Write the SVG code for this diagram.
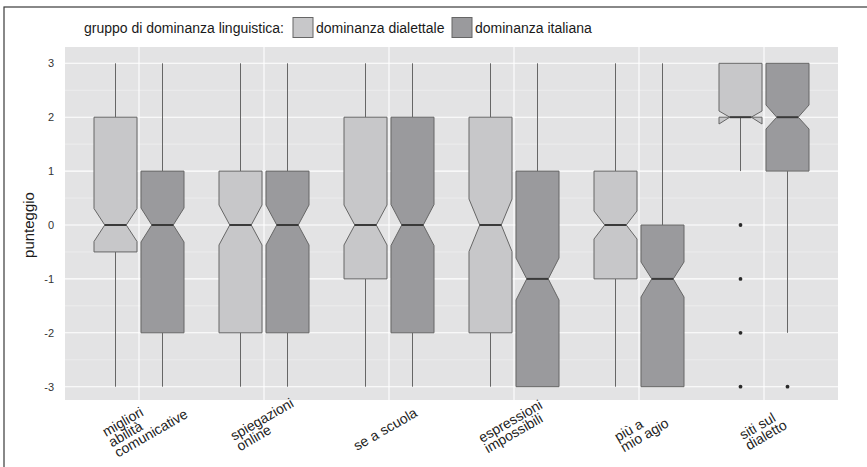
<svg xmlns="http://www.w3.org/2000/svg" width="867" height="467" viewBox="0 0 867 467">
<style>
text{font-family:"Liberation Sans",Arial,sans-serif;fill:#1a1a1a}
.lg{font-size:14px}
.yt{font-size:11px;text-anchor:end;fill:#333}
.xl{font-size:14px;fill:#222}
.grid{stroke:#ffffff;stroke-width:1.1}
.gridm{stroke:#f4f4f4;stroke-width:0.6}
.lt{fill:#c7c7c9;stroke:#666;stroke-width:1}
.dk{fill:#9a9a9d;stroke:#666;stroke-width:1}
.wh{stroke:#666;stroke-width:1}
.md{stroke:#3a3a3a;stroke-width:2}
.out{fill:#2a2a2a}
</style>
<rect x="0" y="0" width="867" height="467" fill="#ffffff"/>
<rect x="4" y="7" width="900" height="500" fill="none" stroke="#3a3a3a" stroke-width="1.2"/>
<g id="legend">
<text class="lg" x="84" y="33">gruppo di dominanza linguistica:</text>
<rect class="lt" x="293" y="17.5" width="20" height="20" stroke="#444" stroke-width="1.3"/>
<text class="lg" x="316" y="33">dominanza dialettale</text>
<rect class="dk" x="452" y="17.5" width="20" height="20" stroke="#444" stroke-width="1.3"/>
<text class="lg" x="475" y="33">dominanza italiana</text>
</g>
<g id="panel">
<rect x="65" y="47" width="773" height="353" fill="#e3e3e4"/>
<g class="gridm">
<line x1="65" y1="90.25" x2="838" y2="90.25"/>
<line x1="65" y1="144.15" x2="838" y2="144.15"/>
<line x1="65" y1="198.05" x2="838" y2="198.05"/>
<line x1="65" y1="251.95" x2="838" y2="251.95"/>
<line x1="65" y1="305.85" x2="838" y2="305.85"/>
<line x1="65" y1="359.75" x2="838" y2="359.75"/>
</g>
<g class="grid">
<line x1="65" y1="63.3" x2="838" y2="63.3"/>
<line x1="65" y1="117.2" x2="838" y2="117.2"/>
<line x1="65" y1="171.1" x2="838" y2="171.1"/>
<line x1="65" y1="225" x2="838" y2="225"/>
<line x1="65" y1="278.9" x2="838" y2="278.9"/>
<line x1="65" y1="332.8" x2="838" y2="332.8"/>
<line x1="65" y1="386.7" x2="838" y2="386.7"/>
<line x1="139" y1="47" x2="139" y2="400"/>
<line x1="264" y1="47" x2="264" y2="400"/>
<line x1="389" y1="47" x2="389" y2="400"/>
<line x1="514" y1="47" x2="514" y2="400"/>
<line x1="639" y1="47" x2="639" y2="400"/>
<line x1="764" y1="47" x2="764" y2="400"/>
</g>
</g>
<g id="y-axis">
<text class="yt" x="54" y="67.3">3</text>
<text class="yt" x="54" y="121.2">2</text>
<text class="yt" x="54" y="175.1">1</text>
<text class="yt" x="54" y="229">0</text>
<text class="yt" x="54" y="282.9">-1</text>
<text class="yt" x="54" y="336.8">-2</text>
<text class="yt" x="54" y="390.7">-3</text>
<text x="0" y="0" font-size="15" text-anchor="middle" transform="translate(34,225) rotate(-90)">punteggio</text>
</g>
<g id="connectors">
<g class="wh">
<line x1="115.5" y1="63.3" x2="115.5" y2="117.2"/><line x1="115.5" y1="251.95" x2="115.5" y2="386.7"/>
<line x1="162.5" y1="63.3" x2="162.5" y2="171.1"/><line x1="162.5" y1="332.8" x2="162.5" y2="386.7"/>
<line x1="240.5" y1="63.3" x2="240.5" y2="171.1"/><line x1="240.5" y1="332.8" x2="240.5" y2="386.7"/>
<line x1="287.5" y1="63.3" x2="287.5" y2="171.1"/><line x1="287.5" y1="332.8" x2="287.5" y2="386.7"/>
<line x1="365.5" y1="63.3" x2="365.5" y2="117.2"/><line x1="365.5" y1="278.9" x2="365.5" y2="386.7"/>
<line x1="412.5" y1="63.3" x2="412.5" y2="117.2"/><line x1="412.5" y1="332.8" x2="412.5" y2="386.7"/>
<line x1="490.5" y1="63.3" x2="490.5" y2="117.2"/><line x1="490.5" y1="332.8" x2="490.5" y2="386.7"/>
<line x1="537.5" y1="63.3" x2="537.5" y2="171.1"/>
<line x1="615.5" y1="63.3" x2="615.5" y2="171.1"/><line x1="615.5" y1="278.9" x2="615.5" y2="386.7"/>
<line x1="662.5" y1="63.3" x2="662.5" y2="225"/>
<line x1="740.5" y1="117.2" x2="740.5" y2="171.1"/>
<line x1="787.5" y1="171.1" x2="787.5" y2="332.8"/>
</g>
</g>
<g id="migliori">
<polygon class="lt" points="94,117.2 94,208.5 104.75,225 94,241.5 94,251.95 137,251.95 137,241.5 126.25,225 137,208.5 137,117.2"/>
<line class="md" x1="104.75" y1="225" x2="126.25" y2="225"/>
<polygon class="dk" points="141,171.1 141,208 151.75,225 141,242 141,332.8 184,332.8 184,242 173.25,225 184,208 184,171.1"/>
<line class="md" x1="151.75" y1="225" x2="173.25" y2="225"/>
</g>
<g id="spiegazioni">
<polygon class="lt" points="219,171.1 219,205 229.75,225 219,245 219,332.8 262,332.8 262,245 251.25,225 262,205 262,171.1"/>
<line class="md" x1="229.75" y1="225" x2="251.25" y2="225"/>
<polygon class="dk" points="266,171.1 266,205 276.75,225 266,245 266,332.8 309,332.8 309,245 298.25,225 309,205 309,171.1"/>
<line class="md" x1="276.75" y1="225" x2="298.25" y2="225"/>
</g>
<g id="scuola">
<polygon class="lt" points="344,117.2 344,205 354.75,225 344,245 344,278.9 387,278.9 387,245 376.25,225 387,205 387,117.2"/>
<line class="md" x1="354.75" y1="225" x2="376.25" y2="225"/>
<polygon class="dk" points="391,117.2 391,204.5 401.75,225 391,245.5 391,332.8 434,332.8 434,245.5 423.25,225 434,204.5 434,117.2"/>
<line class="md" x1="401.75" y1="225" x2="423.25" y2="225"/>
</g>
<g id="espressioni">
<polygon class="lt" points="469,117.2 469,199 479.75,225 469,251.5 469,332.8 512,332.8 512,251.5 501.25,225 512,199 512,117.2"/>
<line class="md" x1="479.75" y1="225" x2="501.25" y2="225"/>
<polygon class="dk" points="516,171.1 516,258 526.75,278.9 516,300 516,386.7 559,386.7 559,300 548.25,278.9 559,258 559,171.1"/>
<line class="md" x1="526.75" y1="278.9" x2="548.25" y2="278.9"/>
</g>
<g id="agio">
<polygon class="lt" points="594,171.1 594,211 604.75,225 594,239 594,278.9 637,278.9 637,239 626.25,225 637,211 637,171.1"/>
<line class="md" x1="604.75" y1="225" x2="626.25" y2="225"/>
<polygon class="dk" points="641,225 641,262 651.75,278.9 641,297 641,386.7 684,386.7 684,297 673.25,278.9 684,262 684,225"/>
<line class="md" x1="651.75" y1="278.9" x2="673.25" y2="278.9"/>
</g>
<g id="siti">
<polygon class="lt" points="719,63.3 719,111 729.75,117.2 719,124 719,117.2 762,117.2 762,124 751.25,117.2 762,111 762,63.3"/>
<line class="md" x1="729.75" y1="117.2" x2="751.25" y2="117.2"/>
<polygon class="dk" points="766,63.3 766,105 776.75,117.2 766,129 766,171.1 809,171.1 809,129 798.25,117.2 809,105 809,63.3"/>
<line class="md" x1="776.75" y1="117.2" x2="798.25" y2="117.2"/>
<circle class="out" cx="740.5" cy="225" r="1.9"/>
<circle class="out" cx="740.5" cy="278.9" r="1.9"/>
<circle class="out" cx="740.5" cy="332.8" r="1.9"/>
<circle class="out" cx="740.5" cy="386.7" r="1.9"/>
<circle class="out" cx="787.5" cy="386.7" r="1.9"/>
</g>
<g id="x-labels">
<text class="xl" transform="translate(106,437) rotate(-30)"><tspan x="0" y="0">migliori</tspan><tspan x="0" y="12">abilità</tspan><tspan x="0" y="24">comunicative</tspan></text>
<text class="xl" transform="translate(234,441) rotate(-30)"><tspan x="0" y="0">spiegazioni</tspan><tspan x="0" y="12">online</tspan></text>
<text class="xl" transform="translate(357,451) rotate(-30)">se a scuola</text>
<text class="xl" transform="translate(482,443) rotate(-30)"><tspan x="0" y="0">espressioni</tspan><tspan x="0" y="12">impossibili</tspan></text>
<text class="xl" transform="translate(618,442) rotate(-30)"><tspan x="0" y="0">più a</tspan><tspan x="0" y="12">mio agio</tspan></text>
<text class="xl" transform="translate(743,440) rotate(-30)"><tspan x="0" y="0">siti sul</tspan><tspan x="0" y="12">dialetto</tspan></text>
</g>
</svg>
